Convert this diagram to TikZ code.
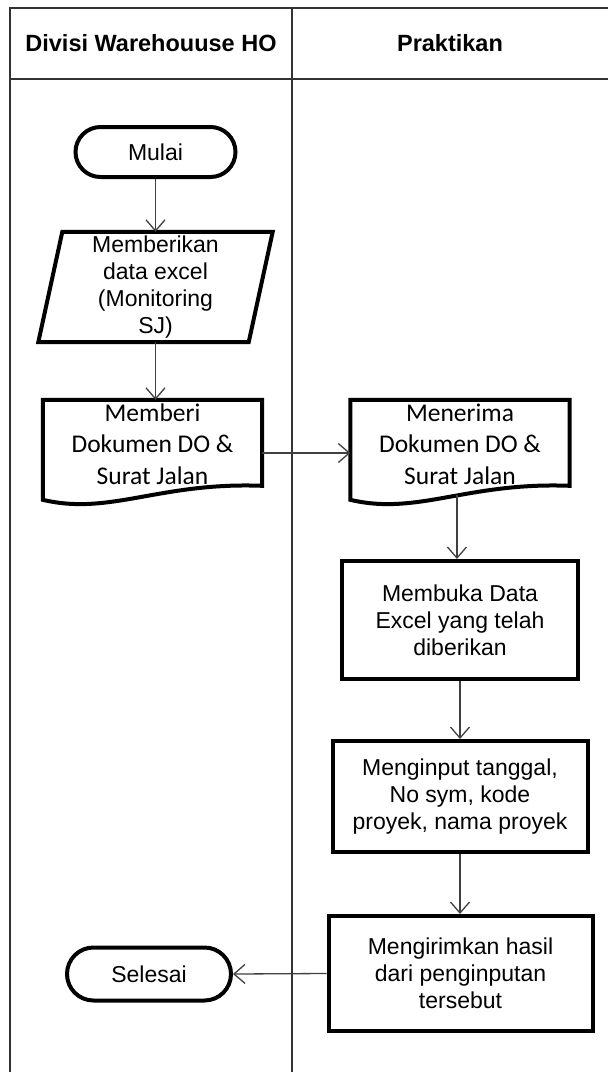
\documentclass[tikz,border=0pt]{standalone}
\usepackage{fontspec}
\setmainfont{Liberation Sans}
\newfontfamily\docfont{Carlito}
\usetikzlibrary{arrows.meta,calc,shapes.misc}

\begin{document}
\begin{tikzpicture}[x=1pt,y=-1pt,
  lane/.style={draw=black!80, line width=1.6pt},
  flow/.style={draw=black!75, line width=1.3pt,
    -{Straight Barb[length=11pt,width=19pt,line width=1.3pt]}},
  boxtext/.style={align=center, font=\fontsize{23}{27}\selectfont, text=black},
  term/.style={boxtext, rounded rectangle, draw=black, line width=4pt,
    minimum width=160pt, minimum height=50pt, inner sep=0pt},
  procbox/.style={boxtext, rectangle, draw=black, line width=4pt, inner sep=0pt},
  frame/.style={rectangle, draw=none, inner sep=0pt},
  doctext/.style={align=center, font=\docfont\fontsize{25.5}{31.5}\selectfont, text=black},
  outline/.style={draw=black, line width=4pt, line join=miter},
  lanehead/.style={font=\bfseries\fontsize{23.5}{28}\selectfont, text=black},
]
\useasboundingbox (0,0) rectangle (608,1072);
\fill[white] (0,0) rectangle (608,1072);

% swimlane frame
\draw[lane] (10,1072) -- (10,8) -- (608,8);
\draw[lane] (10,79) -- (608,79);
\draw[lane] (292,8) -- (292,1072);
\node[lanehead] (laneA) at (151,43) {Divisi Warehouuse HO};
\node[lanehead] (laneB) at (450,43) {Praktikan};

% left lane
\node[term] (start) at (155.5,152) {Mulai};

\node[frame, boxtext, minimum width=210pt, minimum height=110pt] (data) at (155.5,287)
  {Memberikan\\data excel\\(Monitoring\\SJ)};
\draw[outline] ($(data.north west)+(12,0)$) -- ($(data.north east)+(12,0)$)
  -- ($(data.south east)+(-12,0)$) -- ($(data.south west)+(-12,0)$) -- cycle;

\node[frame, minimum width=219pt, minimum height=106pt] (give) at (152.5,453) {};
\draw[outline] (give.north west) -- (give.north east) -- ($(give.north east)+(0,86)$)
  .. controls ($(give.north west)+(117,82)$) and ($(give.north west)+(67,116)$)
  .. ($(give.north west)+(0,100)$) -- cycle;
\node[doctext] (giveText) at (152.5,444) {Memberi\\Dokumen DO \&\\Surat Jalan};

\node[term, minimum width=164pt, minimum height=53pt] (end) at (149,974) {Selesai};

% right lane
\node[frame, minimum width=219pt, minimum height=106pt] (recv) at (460,453) {};
\draw[outline] (recv.north west) -- (recv.north east) -- ($(recv.north east)+(0,86)$)
  .. controls ($(recv.north west)+(117,82)$) and ($(recv.north west)+(67,116)$)
  .. ($(recv.north west)+(0,100)$) coordinate[pos=0.45] (recvbot) -- cycle;
\node[doctext] (recvText) at (460,444) {Menerima\\Dokumen DO \&\\Surat Jalan};

\node[procbox, minimum width=236pt, minimum height=118pt] (open) at (460,620)
  {Membuka Data\\Excel yang telah\\diberikan};
\node[procbox, minimum width=255pt, minimum height=111pt] (fill) at (460,796.5)
  {Menginput tanggal,\\No sym, kode\\proyek, nama proyek};
\node[procbox, minimum width=264pt, minimum height=115pt] (send) at (460.5,973.5)
  {Mengirimkan hasil\\dari penginputan\\tersebut};

% connectors
\draw[flow] (start.south) -- (start.south |- data.north);
\draw[flow] (data.south) -- (data.south |- give.north);
\draw[flow] (give.east) -- (recv.west);
\draw[flow] (recvbot) -- (recvbot |- open.north);
\draw[flow] (open.south) -- (fill.north);
\draw[flow] (fill.south) -- (fill.south |- send.north);
\draw[flow] (send.west) -- (end.east);
\end{tikzpicture}
\end{document}
